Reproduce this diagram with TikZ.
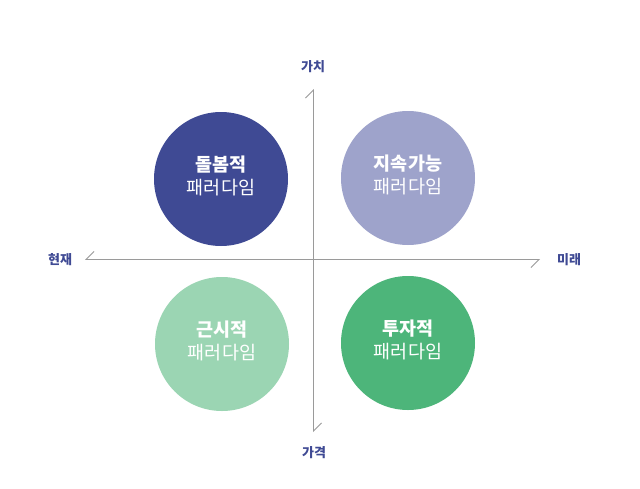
\documentclass[tikz,border=0pt]{standalone}
\usepackage{fontspec}
\newfontfamily\kr{Noto Sans CJK KR}
\usetikzlibrary{arrows.meta}
\definecolor{cdark}{HTML}{3F4A94}
\definecolor{clav}{HTML}{9EA3CB}
\definecolor{cmint}{HTML}{9BD5B3}
\definecolor{cgreen}{HTML}{4DB57A}
\definecolor{caxis}{HTML}{9A9A9A}
\definecolor{clabel}{HTML}{3F4A94}
\tikzset{
  circ/.style={circle, minimum size=134pt, inner sep=0pt},
  ctext/.style={text=white, align=center, inner sep=0pt, font=\kr\fontsize{18.5}{23}\selectfont},
  axislabel/.style={text=clabel, font=\kr\bfseries\fontsize{13}{15}\selectfont, inner sep=0pt},
  axisline/.style={draw=caxis, line width=0.9pt},
}
\begin{document}
\begin{tikzpicture}[x=1pt,y=-1pt]
\fill[white] (0,0) rectangle (640,488);
\useasboundingbox (0,0) rectangle (640,488);
\node[circ, fill=cdark] (c1) at (221,179) {};
\node[circ, fill=clav] (c2) at (408,178) {};
\node[circ, fill=cmint] (c3) at (222,344) {};
\node[circ, fill=cgreen] (c4) at (408,343) {};
\node[ctext] (t1) at ([yshift=3pt]c1.center) {{\bfseries 돌봄적}\\패러다임};
\node[ctext] (t2) at ([yshift=3pt]c2.center) {{\bfseries 지속가능}\\패러다임};
\node[ctext] (t3) at ([yshift=3pt]c3.center) {{\bfseries 근시적}\\패러다임};
\node[ctext] (t4) at ([yshift=3pt]c4.center) {{\bfseries 투자적}\\패러다임};
\coordinate (l) at (85,259.5);
\coordinate (r) at (540,259.5);
\coordinate (t) at (313.5,89);
\coordinate (b) at (313.5,432);
\draw[axisline, {Straight Barb[right,length=8pt,width=16pt]}-{Straight Barb[right,length=8pt,width=16pt]}] (l) -- (r);
\draw[axisline, {Straight Barb[left,length=8pt,width=16pt]}-{Straight Barb[left,length=8pt,width=16pt]}] (t) -- (b);
\node[axislabel] (lt) at (313,67) {가치};
\node[axislabel] (lb) at (314,453) {가격};
\node[axislabel] (ll) at (60,260) {현재};
\node[axislabel] (lr) at (569,260) {미래};
\end{tikzpicture}
\end{document}
